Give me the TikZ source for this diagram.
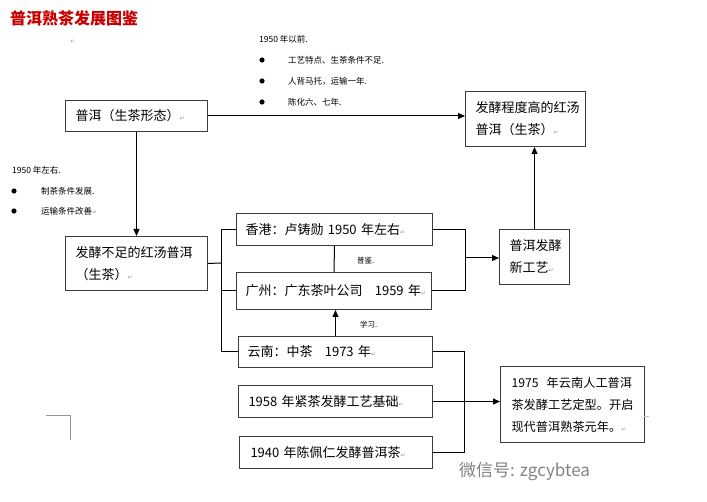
\documentclass[tikz,border=0pt]{standalone}
\usepackage{fontspec}
\setmainfont{Noto Sans CJK SC}
\newfontfamily\symf{DejaVu Sans}
\usetikzlibrary{arrows.meta,positioning}

\definecolor{boxline}{RGB}{60,60,60}
\definecolor{titlered}{RGB}{200,0,0}
\definecolor{markgray}{RGB}{150,150,150}
\definecolor{wmgray}{RGB}{130,130,130}

\newcommand{\pmark}{{\symf\fontsize{6}{6}\selectfont\textcolor{markgray}{↵}}}

\tikzset{
  box/.style={draw=boxline, line width=1pt, anchor=north west, align=left,
    inner xsep=10pt, inner ysep=0pt, font=\fontsize{13}{22}\selectfont},
  note/.style={anchor=west, inner sep=0pt, font=\fontsize{8.5}{10}\selectfont},
  arr/.style={-{Triangle[length=7pt,width=6pt]}, line width=1pt},
  link/.style={line width=1pt},
}

\begin{document}
\begin{tikzpicture}[x=1pt, y=-1pt]
\useasboundingbox (0,0) rectangle (707,502);

% title
\node[anchor=west, inner sep=0pt, text=titlered, font=\fontsize{16}{16}\selectfont\bfseries] (title) at (10,18) {普洱熟茶发展图鉴};
\node[inner sep=0pt] (mark0) at (73,42) {\pmark};

% notes
\node[note] (before) at (259,39) {1950 年以前.};
\foreach \y/\t [count=\i] in {60/工艺特点、生茶条件不足., 81/人背马托，运输一年., 102/陈化六、七年.}{
  \fill (262,\y) circle (2.6);
  \node[note] (before\i) at (288,\y) {\t};
}
\node[note] (around) at (12,170) {1950 年左右.};
\foreach \y/\t [count=\i] in {191/制茶条件发展., 211/运输条件改善\pmark}{
  \fill (14,\y) circle (2.6);
  \node[note] (around\i) at (41,\y) {\t};
}

% boxes
\node[box, text width=122pt, minimum height=31pt] (puer) at (65,100) {\mbox{普洱（生茶形态）\pmark}};
\node[box, text width=100pt, minimum height=55pt] (hongtang) at (465,91) {\mbox{发酵程度高的红汤}\\\mbox{普洱（生茶）\pmark}};
\node[box, text width=122pt, minimum height=54pt] (buzu) at (65,236) {\mbox{发酵不足的红汤普洱}\\\mbox{（生茶）\pmark}};
\node[box, inner xsep=9pt, text width=178pt, minimum height=32pt] (xianggang) at (236,213) {\mbox{香港：卢铸勋 1950 年左右\pmark}};
\node[box, inner xsep=9pt, text width=177pt, minimum height=37pt] (guangzhou) at (236,272) {\mbox{广州：广东茶叶公司\hspace{8pt} 1959 年\pmark}};
\node[box, inner xsep=9pt, text width=176pt, minimum height=31pt] (yunnan) at (238,336) {\mbox{云南：中茶\hspace{8pt} 1973 年\pmark}};
\node[box, inner xsep=10pt, text width=174pt, minimum height=32pt] (jincha) at (238,385) {\mbox{1958 年紧茶发酵工艺基础\pmark}};
\node[box, inner xsep=11pt, text width=171pt, minimum height=32pt] (chenpeiren) at (239,436) {\mbox{1940 年陈佩仁发酵普洱茶\pmark}};
\node[box, text width=50pt, minimum height=55pt] (xingongyi) at (499,229) {\mbox{普洱发酵}\\\mbox{新工艺\pmark}};
\node[box, inner xsep=11pt, text width=122pt, minimum height=76pt, font=\fontsize{12.2}{22}\selectfont] (yuannian) at (500,366) {\mbox{1975\ \ 年云南人工普洱}\\\mbox{茶发酵工艺定型。开启}\\\mbox{现代普洱熟茶元年。\pmark}};

% connectors
\draw[arr] (puer.east) -- (puer.east -| hongtang.west);
\draw[arr] (puer.south) -- (buzu.north);

\coordinate (lbrack) at (221,263);
\draw[link] (buzu.east) -- (lbrack);
\draw[link] (xianggang.west) -- (xianggang.west -| lbrack) -- (yunnan.west -| lbrack) -- (yunnan.west);
\draw[link] (guangzhou.west -| lbrack) -- (guangzhou.west);

\draw[link] (xianggang.south) -- (guangzhou.north);
\node[note, font=\fontsize{7.5}{9}\selectfont] (jian) at (357,261) {普鉴.};
\draw[arr] (yunnan.north) -- (yunnan.north |- guangzhou.south);
\node[note, font=\fontsize{7.5}{9}\selectfont] (xuexi) at (360,325) {学习.};

\coordinate (rbrack) at (465,258);
\draw[link] (xianggang.east) -| (rbrack);
\draw[link] (guangzhou.east) -| (rbrack);
\draw[arr] (rbrack) -- (rbrack -| xingongyi.west);
\draw[arr] (xingongyi.north) -- (xingongyi.north |- hongtang.south);

\coordinate (dbrack) at (464,350);
\draw[link] (yunnan.east) -| (dbrack |- chenpeiren.east) -- (chenpeiren.east);
\draw[arr] (jincha.east) -- (jincha.east -| yuannian.west);

% page marks
\draw[markgray, line width=1pt] (46,416) -- (70,416) -- (70,440);
\draw[markgray!60, line width=1pt] (644,417) -- (649,417);

% watermark
\node[anchor=west, inner sep=0pt, text=wmgray, font=\fontsize{17}{17}\selectfont] (wechat) at (459,471) {微信号: zgcybtea};
\end{tikzpicture}
\end{document}
